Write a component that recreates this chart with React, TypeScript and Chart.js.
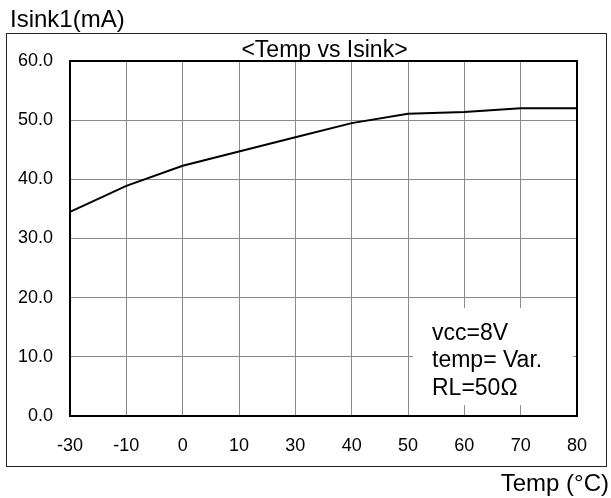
import React, { useEffect, useRef } from "react";
import { Chart, registerables } from "chart.js";

Chart.register(...registerables);

// ---- data ----
const temps: string[] = ["-30", "-10", "0", "10", "30", "40", "50", "60", "70", "80"];
const isink: number[] = [34.5, 38.9, 42.3, 44.7, 47.1, 49.5, 51.1, 51.4, 52.0, 52.0];
const yMin = 0;
const yMax = 60;
const yStep = 10;
const chartTitle = "<Temp vs Isink>";
const yTitle = "Isink1(mA)";
const xTitle = "Temp (\u00B0C)";
const notes: string[] = ["vcc=8V", "temp= Var.", "RL=50\u03A9"];

const FONT = "'Liberation Sans', Arial, Helvetica, sans-serif";

const decoPlugin = {
  id: "deco",
  beforeDraw(chart: any) {
    const { ctx, width, height } = chart;
    ctx.save();
    ctx.fillStyle = "#ffffff";
    ctx.fillRect(0, 0, width, height);
    ctx.restore();
  },
  afterDraw(chart: any) {
    const { ctx, chartArea: a } = chart;
    ctx.save();
    // note box (white background covering grid)
    ctx.fillStyle = "#ffffff";
    ctx.fillRect(a.left + 343, a.top + 247, 160, 97);
    ctx.fillStyle = "#000000";
    ctx.font = `23px ${FONT}`;
    ctx.textAlign = "left";
    ctx.textBaseline = "alphabetic";
    const baselines = [279, 306, 334];
    notes.forEach((t, i) => ctx.fillText(t, a.left + 362, a.top + baselines[i]));

    // plot border
    ctx.strokeStyle = "#000000";
    ctx.lineWidth = 2;
    ctx.strokeRect(a.left, a.top, a.right - a.left, a.bottom - a.top);

    // outer frame
    ctx.lineWidth = 1;
    ctx.strokeStyle = "#222222";
    ctx.strokeRect(6.5, 33.5, 600, 433);

    // titles
    ctx.fillStyle = "#000000";
    ctx.font = `23px ${FONT}`;
    ctx.textAlign = "center";
    ctx.fillText(chartTitle, (a.left + a.right) / 2 + 1, a.top - 4);
    ctx.font = `24px ${FONT}`;
    ctx.textAlign = "left";
    ctx.fillText(yTitle, 10, 27);
    ctx.textAlign = "right";
    ctx.fillText(xTitle, 609, 491);
    ctx.restore();
  },
};

export default function App() {
  const ref = useRef<HTMLCanvasElement | null>(null);
  useEffect(() => {
    if (!ref.current) return;
    const chart = new Chart(ref.current, {
      type: "line",
      data: {
        labels: temps,
        datasets: [
          {
            data: isink,
            borderColor: "#000000",
            borderWidth: 2,
            pointRadius: 0,
            tension: 0,
            fill: false,
          },
        ],
      },
      options: {
        responsive: false,
        animation: false,
        devicePixelRatio: 1,
        layout: { padding: { left: 0, top: 61, right: 34, bottom: 0 } },
        plugins: {
          legend: { display: false },
          title: { display: false },
          tooltip: { enabled: false },
        },
        scales: {
          x: {
            type: "category",
            offset: false,
            grid: { color: "#8a8a8a", lineWidth: 1, drawTicks: false },
            border: { display: false },
            ticks: {
              color: "#000000",
              font: { family: FONT, size: 18 },
              padding: 19,
              maxRotation: 0,
              autoSkip: false,
            },
            afterFit: (scale: any) => {
              scale.height = 82;
            },
          },
          y: {
            min: yMin,
            max: yMax,
            grid: { color: "#8a8a8a", lineWidth: 1, drawTicks: false },
            border: { display: false },
            ticks: {
              stepSize: yStep,
              color: "#000000",
              font: { family: FONT, size: 18 },
              padding: 17,
              callback: (v: any) => Number(v).toFixed(1),
            },
            afterFit: (scale: any) => {
              scale.width = 70;
            },
          },
        },
      },
      plugins: [decoPlugin],
    } as any);
    return () => chart.destroy();
  }, []);

  return (
    <div style={{ position: "fixed", left: 0, top: 0, width: 611, height: 498, background: "#fff" }}>
      <canvas ref={ref} width={611} height={498} style={{ display: "block" }} />
    </div>
  );
}
